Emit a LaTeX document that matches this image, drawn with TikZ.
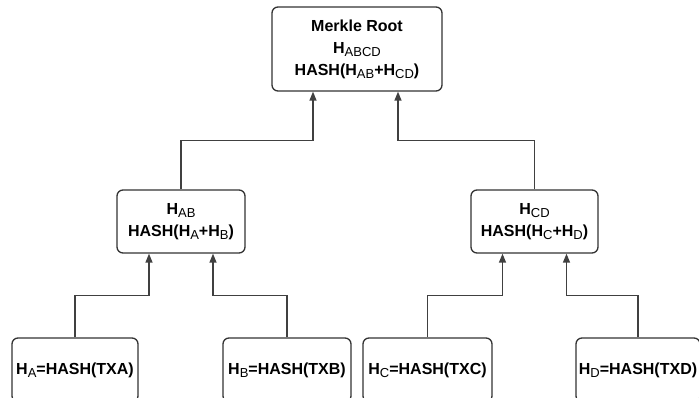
\documentclass[tikz,border=0pt]{standalone}
\usepackage{fontspec}
\setmainfont{Liberation Sans}
\usetikzlibrary{arrows.meta}

\newcommand{\hsub}[1]{\raisebox{-0.35ex}{\fontseries{m}\fontsize{13}{13}\selectfont #1}}

\tikzset{
    hashbox/.style={draw=black!80, line width=1.3pt, rounded corners=6pt, align=center,
        font=\bfseries\fontsize{16}{22}\selectfont, inner sep=0pt},
    link/.style={draw=black!75, line width=1.3pt, -{Triangle[length=9pt,width=7pt]}}
}

\begin{document}
\begin{tikzpicture}[x=1pt,y=1pt]
        \useasboundingbox (0,0) rectangle (699,398);
        \clip (0,0) rectangle (699,398);

        \node[hashbox, minimum width=170, minimum height=84] (root) at (357,349)
            {Merkle Root\\H\hsub{ABCD}\\HASH(H\hsub{AB}+H\hsub{CD})};

        \node[hashbox, minimum width=128, minimum height=63] (hab) at (181,176.5)
            {H\hsub{AB}\\HASH(H\hsub{A}+H\hsub{B})};
        \node[hashbox, minimum width=127, minimum height=63] (hcd) at (534.5,176.5)
            {H\hsub{CD}\\HASH(H\hsub{C}+H\hsub{D})};

        \node[hashbox, minimum width=126, minimum height=64] (ha) at (75,28) {H\hsub{A}=HASH(TXA)};
        \node[hashbox, minimum width=128, minimum height=64] (hb) at (287,28) {H\hsub{B}=HASH(TXB)};
        \node[hashbox, minimum width=129, minimum height=64] (hc) at (427.5,28) {H\hsub{C}=HASH(TXC)};
        \node[hashbox, minimum width=124, minimum height=64] (hd) at (638,28) {H\hsub{D}=HASH(TXD)};

        \draw[link] (hab.north) -- ++(0,49) -| ([xshift=-44pt]root.south);
        \draw[link] (hcd.north) -- ++(0,49) -| ([xshift=41pt]root.south);

        \draw[link] (ha.north) -- ++(0,42) -| ([xshift=-32pt]hab.south); % A
        \draw[link] (hb.north) -- ++(0,42) -| ([xshift=32pt]hab.south);  % B
        \draw[link] (hc.north) -- ++(0,42) -| ([xshift=-32pt]hcd.south); % C
        \draw[link] (hd.north) -- ++(0,42) -| ([xshift=32pt]hcd.south);  % D
    \end{tikzpicture}
\end{document}
